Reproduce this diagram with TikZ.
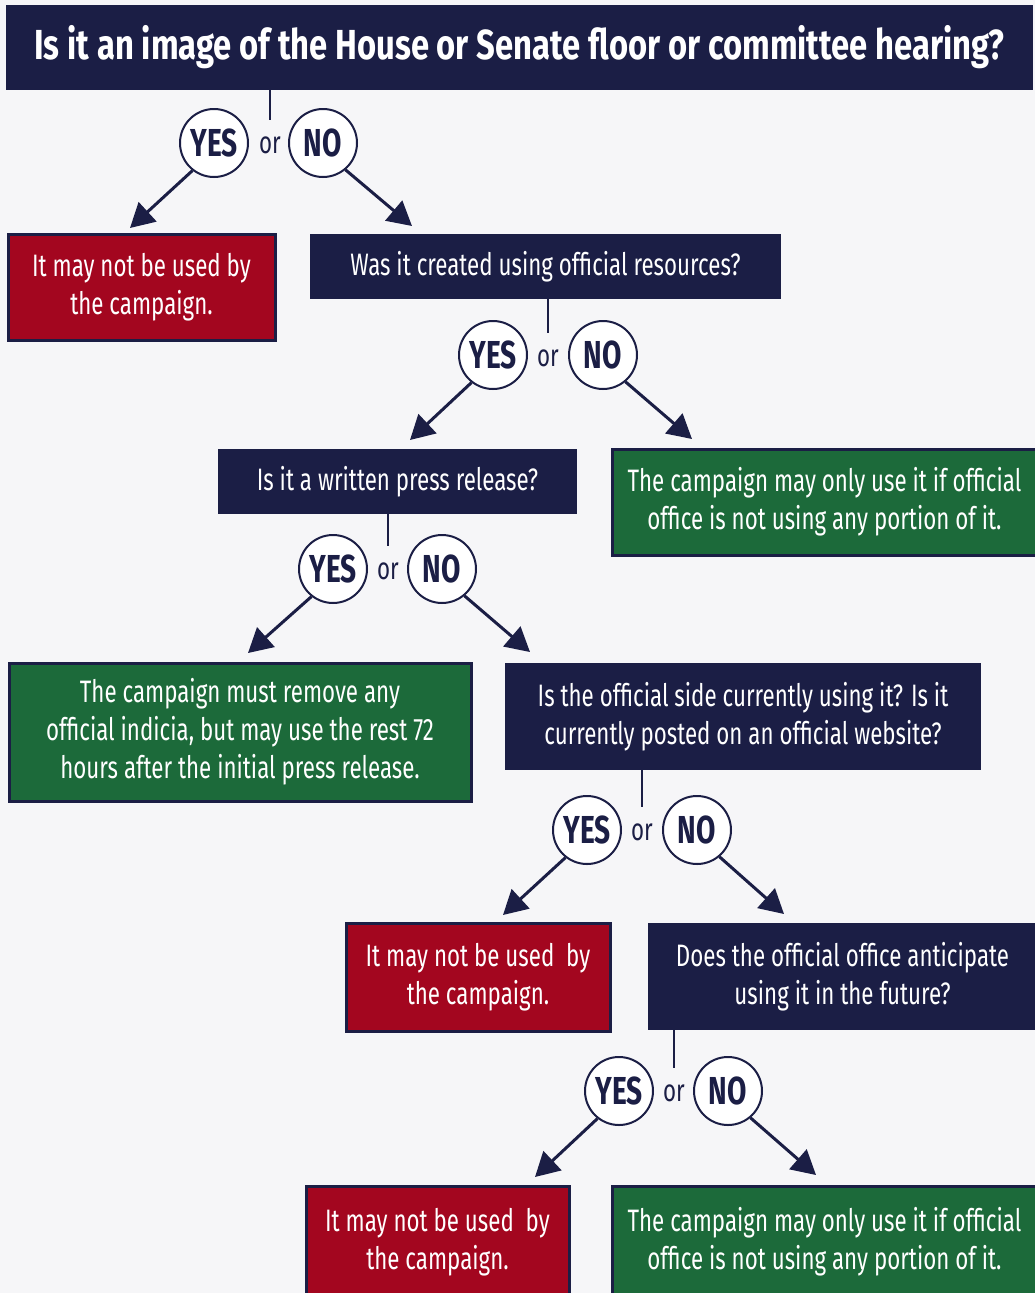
\documentclass[tikz,border=0pt]{standalone}
\usepackage{fontspec}
\setmainfont{Fira Sans}[FakeStretch=0.72]
\newfontfamily\titlefont{Fira Sans}[FakeStretch=0.78]
\usetikzlibrary{arrows.meta}
\definecolor{navy}{HTML}{1B1E45}
\definecolor{bred}{HTML}{A3061F}
\definecolor{bgreen}{HTML}{1C6A3A}
\definecolor{bgc}{HTML}{F6F6F8}
\tikzset{
  box/.style={inner sep=0pt, align=center, text=white, font=\fontsize{31}{38}\selectfont},
  qbox/.style={box, fill=navy},
  redbox/.style={box, fill=bred, draw=navy, line width=3pt},
  greenbox/.style={box, fill=bgreen, draw=navy, line width=3pt},
  yn/.style={circle, draw=navy, line width=2pt, fill=white, minimum size=68pt, inner sep=0pt, text=navy, font=\fontsize{39}{39}\selectfont\bfseries},
  ortext/.style={inner sep=0pt, minimum height=50pt, text=navy, font=\fontsize{31}{31}\selectfont},
  stem/.style={draw=navy, line width=2.5pt},
  arr/.style={draw=navy, line width=3pt, -{Triangle[length=24pt,width=26pt]}},
}
\begin{document}
\begin{tikzpicture}[x=1pt,y=-1pt]
\useasboundingbox (0,0) rectangle (1035,1293);
\fill[bgc] (0,0) rectangle (1035,1293);
% boxes
\node[qbox, minimum width=1027pt, minimum height=85pt, font=\titlefont\fontsize{42}{44}\selectfont\bfseries] (title) at (519.5,47.5) {Is it an image of the House or Senate floor or committee hearing?};
\node[redbox, minimum width=267pt, minimum height=106pt] (red1) at (141.5,287) {It may not be used by\\the campaign.};
\node[qbox, minimum width=471pt, minimum height=65pt] (q1) at (545.5,266.5) {Was it created using official resources?};
\node[qbox, minimum width=359pt, minimum height=65pt] (q2) at (397.5,481.5) {Is it a written press release?};
\node[greenbox, minimum width=425pt, minimum height=106pt] (green1) at (824.5,502) {The campaign may only use it if official\\office is not using any portion of it.};
\node[greenbox, minimum width=462pt, minimum height=138pt] (green2) at (240,732) {The campaign must remove any\\official indicia, but may use the rest 72\\hours after the initial press release.};
\node[qbox, minimum width=476pt, minimum height=107pt] (q3) at (743,716.5) {Is the official side currently using it? Is it\\currently posted on an official website?};
\node[redbox, minimum width=264pt, minimum height=108pt] (red2) at (478,977) {It may not be used\ \ by\\the campaign.};
\node[qbox, minimum width=389pt, minimum height=107pt] (q4) at (842.5,976.5) {Does the official office anticipate\\using it in the future?};
\node[redbox, minimum width=263pt, minimum height=112pt] (red3) at (437.5,1242) {It may not be used\ \ by\\the campaign.};
\node[greenbox, minimum width=425pt, minimum height=112pt] (green3) at (824.5,1242) {The campaign may only use it if official\\office is not using any portion of it.};
% decision 1
\node[ortext] (or1) at (270,145) {or};
\node[yn] (y1) at (214,143) {YES};
\node[yn] (n1) at (323,143) {NO};
\draw[stem] (title.south -| or1.north) -- (or1.north);
\coordinate (t1a) at (130,228);
\coordinate (t1b) at (412,226);
\draw[arr] (y1.232) -- (t1a);
\draw[arr] (n1.310) -- (t1b);
% decision 2
\node[ortext] (or2) at (548,358) {or};
\node[yn] (y2) at (493,355) {YES};
\node[yn] (n2) at (603,355) {NO};
\draw[stem] (q1.south -| or2.north) -- (or2.north);
\coordinate (t2a) at (410,440);
\coordinate (t2b) at (692,439);
\draw[arr] (y2.232) -- (t2a);
\draw[arr] (n2.310) -- (t2b);
% decision 3
\node[ortext] (or3) at (388,571) {or};
\node[yn] (y3) at (333,569) {YES};
\node[yn] (n3) at (442,569) {NO};
\draw[stem] (q2.south -| or3.north) -- (or3.north);
\coordinate (t3a) at (248,653);
\coordinate (t3b) at (530,652);
\draw[arr] (y3.232) -- (t3a);
\draw[arr] (n3.310) -- (t3b);
% decision 4
\node[ortext] (or4) at (642,832) {or};
\node[yn] (y4) at (587,830) {YES};
\node[yn] (n4) at (697,830) {NO};
\draw[stem] (q3.south -| or4.north) -- (or4.north);
\coordinate (t4a) at (503,915);
\coordinate (t4b) at (784,914);
\draw[arr] (y4.232) -- (t4a);
\draw[arr] (n4.310) -- (t4b);
% decision 5
\node[ortext] (or5) at (674,1093) {or};
\node[yn] (y5) at (619,1091) {YES};
\node[yn] (n5) at (728,1091) {NO};
\draw[stem] (q4.south -| or5.north) -- (or5.north);
\coordinate (t5a) at (535,1177);
\coordinate (t5b) at (816,1175);
\draw[arr] (y5.232) -- (t5a);
\draw[arr] (n5.310) -- (t5b);
\end{tikzpicture}
\end{document}
